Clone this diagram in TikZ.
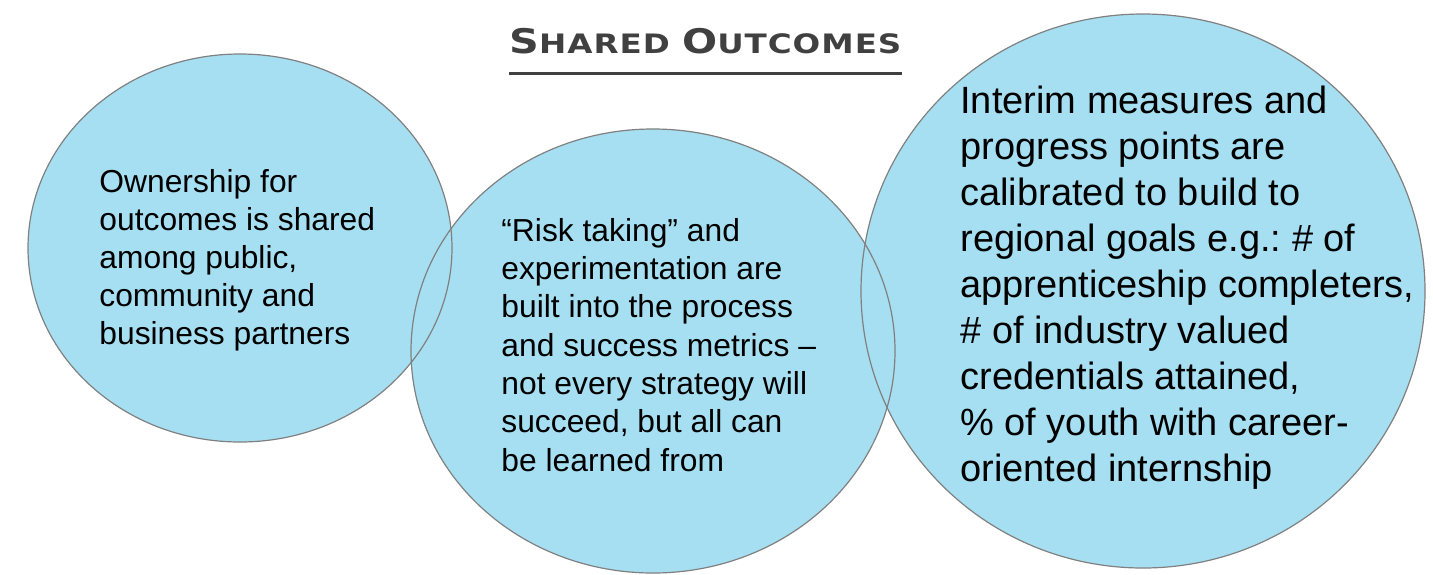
\documentclass[tikz,border=0pt]{standalone}
\usepackage{fontspec}
\usepackage{graphicx}
\setmainfont{Liberation Sans}
\newfontfamily\headfont[LetterSpace=3]{DejaVu Sans}
\definecolor{bubble}{RGB}{166,223,242}
\definecolor{rim}{RGB}{128,128,128}
\definecolor{headgray}{RGB}{64,64,64}
\tikzset{
  txt/.style={anchor=base west, align=left, inner sep=0pt, text=black},
}
\frenchspacing
\begin{document}
\begin{tikzpicture}[x=0.5pt,y=-0.5pt]
  % ganze Fläche 1433x574
  \useasboundingbox (0,0) rectangle (1433,574);
  % Kreise: erst füllen, dann Ränder
  \foreach \cx/\cy/\rx/\ry in {240/248/212/194, 653/351/242/222, 1143/291/282/277}
    \fill[bubble] (\cx,\cy) ellipse [x radius=\rx, y radius=\ry];
  \foreach \cx/\cy/\rx/\ry in {240/248/212/194, 653/351/242/222, 1143/291/282/277}
    \draw[rim,line width=0.6pt] (\cx,\cy) ellipse [x radius=\rx, y radius=\ry];

  % Überschrift
  \node[anchor=base west, inner sep=0pt, text=headgray, font=\headfont\bfseries] (title) at (509,53)
    {\resizebox{196pt}{12.6pt}{\fontsize{16.5}{18}\selectfont S\fontsize{13}{18}\selectfont HARED
     \fontsize{16.5}{18}\selectfont O\fontsize{13}{18}\selectfont UTCOMES}};
  \draw[headgray,line width=1.5pt] ([yshift=-10pt]title.base west) -- ([yshift=-10pt]title.base east);

  % Texte (Anker = Grundlinie der letzten Zeile)
  \node[txt, font=\fontsize{15.9}{19}\selectfont] (own) at (99,344)
    {Ownership for\\outcomes is shared\\among public,\\community and\\business partners};
  \node[txt, font=\fontsize{15.9}{19.15}\selectfont] (risk) at (501,471)
    {“Risk taking” and\\experimentation are\\built into the process\\and success metrics –\\not every strategy will\\succeed, but all can\\be learned from};
  \node[txt, font=\fontsize{19}{23}\selectfont] (interim) at (960,481)
    {Interim measures and\\progress points are\\calibrated to build to\\regional goals e.g.: \# of\\apprenticeship completers,\\\# of industry valued\\credentials attained,\\\% of youth with career-\\oriented internship};
\end{tikzpicture}
\end{document}
